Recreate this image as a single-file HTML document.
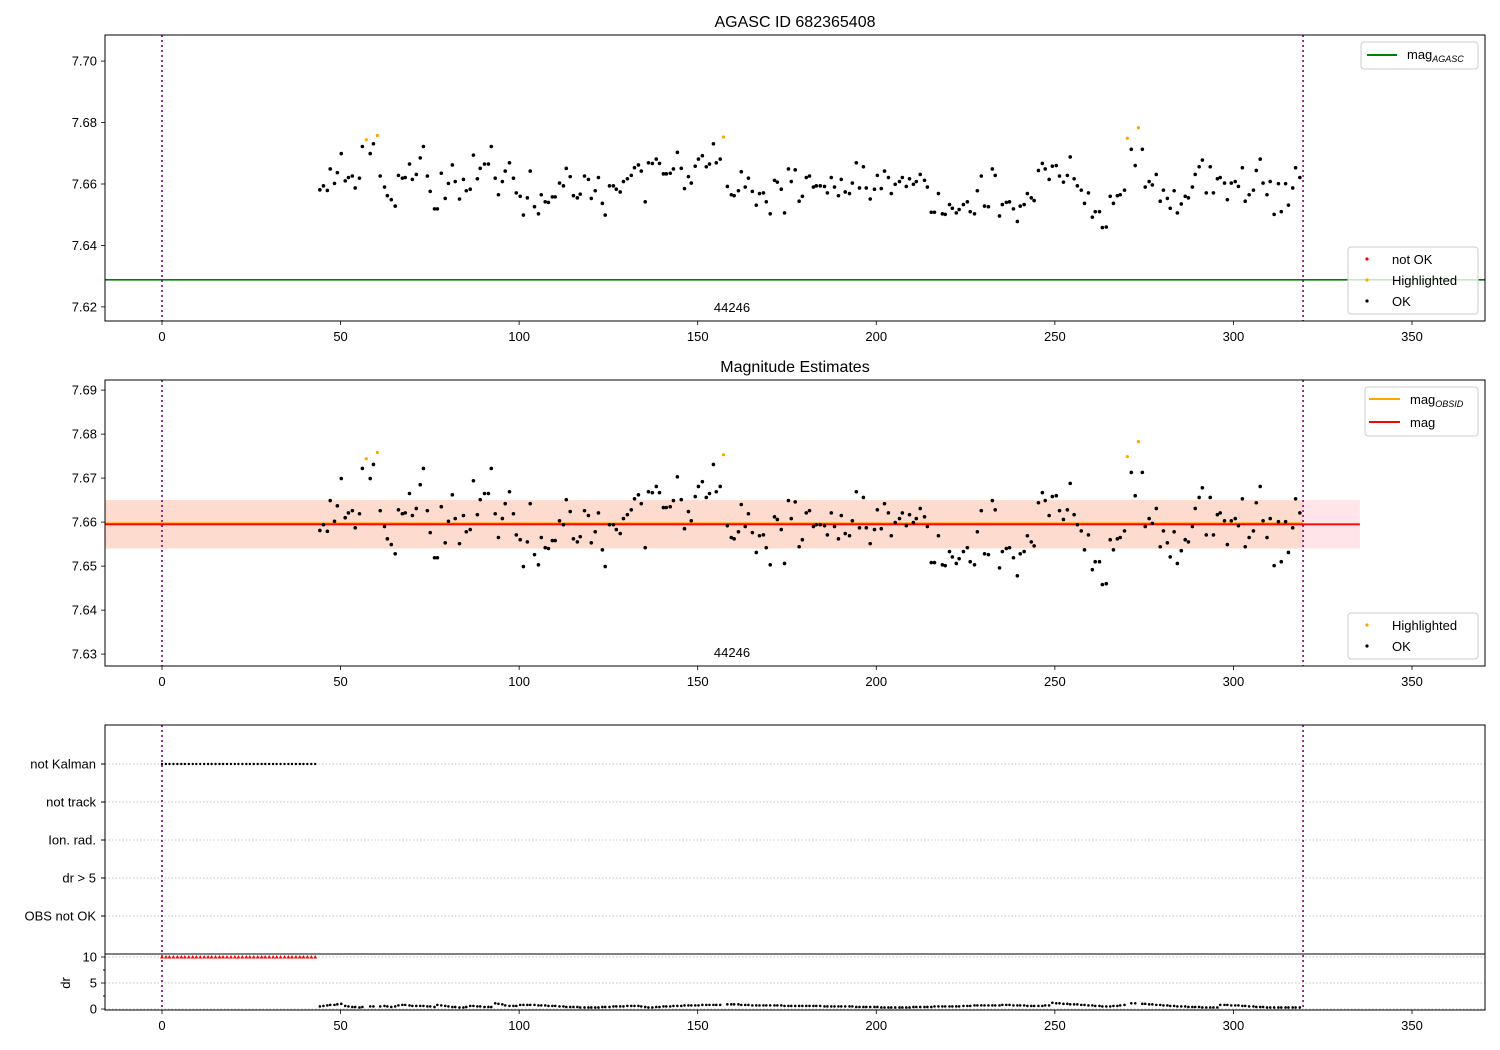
<!DOCTYPE html>
<html><head><meta charset="utf-8"><style>
body{margin:0;background:#fff}
svg{display:block;font-family:"Liberation Sans","DejaVu Sans",sans-serif}
</style></head><body>
<svg id="chart" width="1500" height="1050" viewBox="0 0 1500 1050" xmlns="http://www.w3.org/2000/svg">
<text x="795" y="27" font-size="16" text-anchor="middle">AGASC ID 682365408</text>
<text x="795" y="372" font-size="16" text-anchor="middle">Magnitude Estimates</text>
<g id="marks"></g>
</svg>
<script>
const okX=[44.2,45.2,46.3,47.1,48.3,49.1,50.2,51.3,52.2,53.3,54.1,55.3,56.1,58.3,59.2,61.1,62.3,63.1,64.2,65.3,66.2,67.3,68.1,69.3,70.1,71.2,72.3,73.2,74.3,75.1,76.3,77.1,78.2,79.3,80.2,81.3,82.1,83.3,84.4,85.2,86.3,87.2,88.3,89.1,90.3,91.4,92.2,93.3,94.2,95.3,96.1,97.3,98.4,99.2,100.3,101.2,102.3,103.1,104.3,105.4,106.2,107.3,108.2,109.3,110.1,111.3,
112.4,113.2,114.3,115.2,116.3,117.1,118.3,119.4,120.2,121.3,122.2,123.3,124.1,125.3,126.4,127.2,128.3,129.2,130.3,131.4,132.3,133.4,134.2,135.3,136.2,137.3,138.4,139.3,140.4,141.2,142.3,143.2,144.3,145.4,146.3,147.4,148.2,149.3,150.2,151.3,152.4,153.3,154.4,155.2,156.3,158.3,159.4,160.2,161.4,162.2,163.3,164.2,165.3,166.4,167.3,168.4,169.2,170.3,171.5,172.3,173.4,174.3,175.4,176.2,177.3,178.4,
179.3,180.4,181.3,182.4,183.2,184.3,185.5,186.3,187.4,188.3,189.4,190.2,191.3,192.5,193.3,194.4,195.3,196.4,197.2,198.3,199.5,200.3,201.4,202.3,203.4,204.2,205.3,206.5,207.3,208.4,209.3,210.4,211.2,212.3,213.5,214.3,215.4,216.3,217.4,218.5,219.3,220.5,221.3,222.4,223.2,224.4,225.5,226.3,227.5,228.3,229.4,230.3,231.4,232.5,233.3,234.5,235.3,236.4,237.3,238.4,239.5,240.3,241.4,242.3,243.4,244.2,245.4,246.5,247.3,248.4,
249.3,250.4,251.3,252.4,253.5,254.3,255.4,256.3,257.4,258.3,259.4,260.5,261.3,262.5,263.3,264.4,265.5,266.4,267.5,268.3,269.5,271.4,272.5,274.5,275.3,276.4,277.3,278.4,279.5,280.4,281.5,282.3,283.4,284.3,285.4,286.5,287.4,288.5,289.3,290.4,291.3,292.4,293.5,294.4,295.5,296.3,297.5,298.3,299.4,300.5,301.4,302.5,303.3,304.4,305.6,306.4,307.5,308.3,309.4,310.3,311.4,312.6,313.4,314.6,315.4,316.6,317.4,318.6];
const okMag=[7.6581,7.6594,7.6579,7.6649,7.6602,7.6637,7.6699,7.6610,7.6621,7.6626,7.6587,7.6619,7.6722,7.6699,7.6731,7.6626,7.6590,7.6562,7.6549,7.6528,7.6628,7.6619,7.6621,7.6665,7.6615,7.6631,7.6685,7.6722,7.6626,7.6576,7.6519,7.6519,7.6635,7.6553,7.6602,7.6662,7.6608,7.6551,7.6615,7.6578,7.6583,7.6694,7.6617,7.6651,7.6665,7.6665,7.6722,7.6619,7.6565,7.6608,7.6642,7.6669,7.6619,7.6571,7.6560,7.6499,7.6555,7.6642,7.6526,7.6503,7.6565,7.6542,7.6540,7.6558,7.6558,7.6603,
7.6594,7.6651,7.6624,7.6562,7.6555,7.6567,7.6626,7.6615,7.6553,7.6578,7.6621,7.6537,7.6499,7.6594,7.6594,7.6583,7.6574,7.6608,7.6617,7.6628,7.6653,7.6662,7.6642,7.6542,7.6669,7.6667,7.6681,7.6667,7.6633,7.6633,7.6635,7.6649,7.6703,7.6651,7.6585,7.6624,7.6603,7.6658,7.6681,7.6692,7.6656,7.6665,7.6731,7.6669,7.6681,7.6592,7.6565,7.6562,7.6578,7.6640,7.6590,7.6619,7.6576,7.6531,7.6569,7.6571,7.6542,7.6503,7.6612,7.6606,7.6583,7.6506,7.6649,7.6608,7.6646,7.6544,
7.6560,7.6621,7.6626,7.6590,7.6594,7.6594,7.6592,7.6571,7.6621,7.6590,7.6562,7.6615,7.6574,7.6569,7.6603,7.6669,7.6587,7.6656,7.6587,7.6551,7.6583,7.6628,7.6585,7.6642,7.6621,7.6569,7.6599,7.6608,7.6621,7.6592,7.6617,7.6599,7.6608,7.6631,7.6612,7.6590,7.6508,7.6508,7.6569,7.6503,7.6501,7.6533,7.6521,7.6506,7.6517,7.6533,7.6542,7.6510,7.6503,7.6578,7.6626,7.6528,7.6526,7.6649,7.6628,7.6496,7.6533,7.6540,7.6542,7.6519,7.6478,7.6528,7.6533,7.6569,7.6555,7.6546,7.6644,7.6667,7.6649,7.6615,
7.6658,7.6660,7.6626,7.6606,7.6628,7.6688,7.6617,7.6594,7.6580,7.6537,7.6571,7.6492,7.6510,7.6510,7.6458,7.6460,7.6560,7.6537,7.6562,7.6565,7.6580,7.6713,7.6660,7.6713,7.6590,7.6608,7.6597,7.6631,7.6544,7.6580,7.6553,7.6521,7.6578,7.6506,7.6535,7.6560,7.6555,7.6590,7.6631,7.6656,7.6678,7.6571,7.6656,7.6571,7.6617,7.6621,7.6603,7.6549,7.6603,7.6608,7.6592,7.6653,7.6544,7.6565,7.6580,7.6644,7.6681,7.6603,7.6565,7.6608,7.6501,7.6601,7.6510,7.6601,7.6531,7.6587,7.6653,7.6621];
const hlX=[57.2,60.3,157.2,270.3,273.4];
const hlMag=[7.6744,7.6758,7.6753,7.6749,7.6783];
const okDr=[0.5,0.6,0.7,0.8,0.8,0.9,1.0,0.6,0.5,0.4,0.4,0.3,0.4,0.5,0.5,0.5,0.6,0.5,0.4,0.5,0.7,0.8,0.8,0.7,0.6,0.6,0.6,0.6,0.5,0.5,0.4,0.8,0.7,0.6,0.5,0.4,0.4,0.3,0.3,0.4,0.6,0.6,0.5,0.5,0.4,0.4,0.4,1.1,1.0,0.9,0.7,0.6,0.6,0.6,0.8,0.8,0.8,0.8,0.8,0.7,0.7,0.7,0.6,0.6,0.6,0.5,
0.5,0.4,0.4,0.4,0.4,0.3,0.3,0.3,0.3,0.3,0.3,0.4,0.4,0.4,0.5,0.5,0.5,0.5,0.6,0.6,0.6,0.6,0.5,0.4,0.3,0.3,0.4,0.4,0.5,0.5,0.5,0.6,0.6,0.6,0.7,0.7,0.7,0.7,0.7,0.8,0.8,0.8,0.8,0.8,0.8,0.9,0.9,0.9,0.9,0.8,0.8,0.8,0.7,0.7,0.7,0.7,0.7,0.7,0.7,0.7,0.7,0.6,0.6,0.6,0.6,0.6,
0.6,0.6,0.6,0.6,0.6,0.6,0.5,0.5,0.5,0.5,0.5,0.5,0.5,0.5,0.5,0.4,0.4,0.4,0.4,0.4,0.4,0.4,0.3,0.3,0.3,0.3,0.3,0.3,0.3,0.3,0.3,0.4,0.4,0.4,0.4,0.4,0.4,0.5,0.5,0.5,0.5,0.5,0.5,0.5,0.5,0.6,0.6,0.6,0.7,0.7,0.7,0.7,0.7,0.7,0.7,0.7,0.8,0.8,0.8,0.7,0.7,0.7,0.7,0.6,0.6,0.6,0.6,0.6,0.7,0.7,
1.2,1.1,1.1,1.0,1.0,0.9,0.9,0.9,0.8,0.8,0.7,0.7,0.6,0.6,0.5,0.5,0.5,0.6,0.6,0.7,0.8,1.1,1.1,1.0,1.0,0.9,0.9,0.8,0.8,0.7,0.7,0.6,0.6,0.5,0.5,0.5,0.4,0.4,0.4,0.4,0.3,0.3,0.3,0.3,0.3,0.8,0.8,0.8,0.7,0.7,0.7,0.6,0.6,0.5,0.5,0.4,0.4,0.4,0.3,0.3,0.3,0.3,0.3,0.3,0.3,0.3,0.3,0.3];
const kalX=[0,1.1,2.1,3.2,4.3,5.4,6.4,7.5,8.6,9.6,10.7,11.8,12.9,13.9,15,16.1,17.1,18.2,19.3,20.4,21.4,22.5,23.6,24.6,25.7,26.8,27.9,28.9,30,31.1,32.1,33.2,34.3,35.4,36.4,37.5,38.6,39.6,40.7,41.8,42.9];
const kalDr=[10,10,10,10,10,10,10,10,10,10,10,10,10,10,10,10,10,10,10,10,10,10,10,10,10,10,10,10,10,10,10,10,10,10,10,10,10,10,10,10,10];
const xTicks=[0,50,100,150,200,250,300,350];
const yTicks1=[7.62,7.64,7.66,7.68,7.70];
const yTicks2=[7.63,7.64,7.65,7.66,7.67,7.68,7.69];
const catLabels=["OBS not OK","dr > 5","Ion. rad.","not track","not Kalman"];
const drTicks=[0,5,10];
const agascMag=[7.6288];
const meanMag=[7.6595];
const bandLo=[7.654], bandHi=[7.665];

const NS="http://www.w3.org/2000/svg";
const G=document.getElementById('marks');
function el(tag,attrs,parent){const e=document.createElementNS(NS,tag);for(const k in attrs)e.setAttribute(k,attrs[k]);(parent||G).appendChild(e);return e;}
const L=105,R=1485;
const xs=x=>162+x*(1250/350);
function ysc(top,bot,min,max){return v=>bot-(v-min)/(max-min)*(bot-top);}
const P1={top:35,bot:321,y:ysc(35,321,7.6154,7.7085)};
const P2={top:380,bot:666,y:ysc(380,666,7.6273,7.6923)};
const catY=k=>916-38*k;
const drY=ysc(954,1011,-0.38,10.58);

function xAxis(bot,name){
  xTicks.forEach(t=>{
    el('line',{x1:xs(t),x2:xs(t),y1:bot,y2:bot+4,stroke:'#000','stroke-width':0.8});
    const tx=el('text',{x:xs(t),y:bot+20,'font-size':13,'text-anchor':'middle'});tx.textContent=t;
    
    
  });
}
function yAxis(ticks,ys,name,fmt){
  ticks.forEach(t=>{
    el('line',{x1:L-4,x2:L,y1:ys(t),y2:ys(t),stroke:'#000','stroke-width':0.8});
    const tx=el('text',{x:L-8,y:ys(t)+4.5,'font-size':13,'text-anchor':'end'});tx.textContent=fmt(t);
    
    
  });
}
function vlines(top,bot){
  [0,319.5].forEach(v=>{const l=el('line',{x1:xs(v),x2:xs(v),y1:top,y2:bot,stroke:'#800080','stroke-width':1.6,'stroke-dasharray':'2,3'});
  
  });
}
function dot(x,y,r,c,name){const d=el('circle',{cx:x,cy:y,r:r,fill:c});
  
  }
function frame(top,bot,name){const f=el('rect',{x:L,y:top,width:R-L,height:bot-top,fill:'none',stroke:'#000','stroke-width':1});
  
  }

// Panel 1
(function(){
  const gl=el('line',{x1:L,x2:R,y1:P1.y(agascMag[0]),y2:P1.y(agascMag[0]),stroke:'green','stroke-width':1.6});
  
  
  vlines(P1.top,P1.bot);
  okX.forEach((x,i)=>dot(xs(x),P1.y(okMag[i]),1.8,'#000','ok-point'));
  hlX.forEach((x,i)=>dot(xs(x),P1.y(hlMag[i]),1.6,'orange','highlighted-point'));
  frame(P1.top,P1.bot,'top-axes');
  xAxis(P1.bot,'top-x');yAxis(yTicks1,P1.y,'top-y',t=>t.toFixed(2));
  const t=el('text',{x:732,y:312,'font-size':13,'text-anchor':'middle'});t.textContent='44246';
  
  
})();
// Panel 2
(function(){
  const y1=P2.y(bandHi[0]),y2=P2.y(bandLo[0]);
  const b1=el('rect',{x:L,y:y1,width:xs(335.4)-L,height:y2-y1,fill:'#ffe4ea'});
  
  
  const b2=el('rect',{x:L,y:y1,width:xs(319.5)-L,height:y2-y1,fill:'#fddccf'});
  
  
  const ol=el('line',{x1:L,x2:xs(319.5),y1:P2.y(meanMag[0])-1,y2:P2.y(meanMag[0])-1,stroke:'orange','stroke-width':2});
  
  
  const rl=el('line',{x1:L,x2:xs(335.4),y1:P2.y(meanMag[0]),y2:P2.y(meanMag[0]),stroke:'red','stroke-width':1.8});
  
  
  vlines(P2.top,P2.bot);
  okX.forEach((x,i)=>dot(xs(x),P2.y(okMag[i]),1.8,'#000','ok-point'));
  hlX.forEach((x,i)=>dot(xs(x),P2.y(hlMag[i]),1.6,'orange','highlighted-point'));
  frame(P2.top,P2.bot,'middle-axes');
  xAxis(P2.bot,'middle-x');yAxis(yTicks2,P2.y,'middle-y',t=>t.toFixed(2));
  const t=el('text',{x:732,y:657,'font-size':13,'text-anchor':'middle'});t.textContent='44246';
  
  
})();
// Panel 3
(function(){
  catLabels.forEach((c,k)=>{
    el('line',{x1:L,x2:R,y1:catY(k),y2:catY(k),stroke:'#b0b0b0','stroke-width':0.8,'stroke-dasharray':'1.5,2'});
    el('line',{x1:L-4,x2:L,y1:catY(k),y2:catY(k),stroke:'#000'});
    const t=el('text',{x:L-9,y:catY(k)+4.5,'font-size':13,'text-anchor':'end'});t.textContent=c;
    
    
  });
  drTicks.forEach(d=>el('line',{x1:L,x2:R,y1:drY(d),y2:drY(d),stroke:'#b0b0b0','stroke-width':0.8,'stroke-dasharray':'1.5,2'}));
  [2.5,7.5].forEach(d=>el('line',{x1:L-2,x2:L,y1:drY(d),y2:drY(d),stroke:'#000'}));
  yAxis(drTicks,drY,'dr-y',t=>t);
  const yl=el('text',{x:0,y:0,'font-size':13,'text-anchor':'middle',transform:'translate(70,983) rotate(-90)'});yl.textContent='dr';
  
  
  vlines(725,1010);
  kalX.forEach(x=>dot(xs(x),catY(4),1.2,'#000','not-kalman-point'));
  kalX.forEach((x,i)=>{const p=el('path',{d:`M${xs(x)-2},${drY(kalDr[i])+1.5} L${xs(x)+2},${drY(kalDr[i])+1.5} L${xs(x)},${drY(kalDr[i])-2} Z`,fill:'red'});
    
    });
  okDr.forEach((d,i)=>{if(i<okX.length)dot(xs(okX[i]),drY(d),1.3,'#000','dr-ok-point');});
  el('line',{x1:L,x2:R,y1:954,y2:954,stroke:'#000','stroke-width':1});
  frame(725,1010,'bottom-axes');
  xAxis(1010,'bottom-x');
})();
// Legends
function legendBox(x,y,w,h,name){const b=el('rect',{x:x,y:y,width:w,height:h,rx:3,fill:'#fff','fill-opacity':0.8,stroke:'#ccc'});
  
  }
function legText(x,y,s,name,sub){const t=el('text',{x:x,y:y,'font-size':13});t.textContent=s;
  if(sub){const ts=el('tspan',{'font-size':9,'font-style':'italic',dy:3},t);ts.textContent=sub;}
  
  }
legendBox(1361,42,117,27,'top-line-legend');
el('line',{x1:1367,x2:1397,y1:55,y2:55,stroke:'green','stroke-width':2});
legText(1407,59,'mag','legend-entry-agasc','AGASC');
legendBox(1348,247,130,67,'top-point-legend');
dot(1367,259,1.6,'red','legend-marker');legText(1392,264,'not OK','legend-entry-not-ok');
dot(1367,280,1.6,'orange','legend-marker');legText(1392,285,'Highlighted','legend-entry-highlighted');
dot(1367,301,1.6,'#000','legend-marker');legText(1392,306,'OK','legend-entry-ok');
legendBox(1365,387,113,49,'middle-line-legend');
el('line',{x1:1369,x2:1400,y1:399,y2:399,stroke:'orange','stroke-width':2});
legText(1410,404,'mag','legend-entry-obsid','OBSID');
el('line',{x1:1369,x2:1400,y1:422,y2:422,stroke:'red','stroke-width':2});
legText(1410,427,'mag','legend-entry-mag');
legendBox(1348,613,130,46,'middle-point-legend');
dot(1367,625,1.6,'orange','legend-marker');legText(1392,630,'Highlighted','legend-entry-highlighted');
dot(1367,646,1.6,'#000','legend-marker');legText(1392,651,'OK','legend-entry-ok');
</script>
</body></html>
